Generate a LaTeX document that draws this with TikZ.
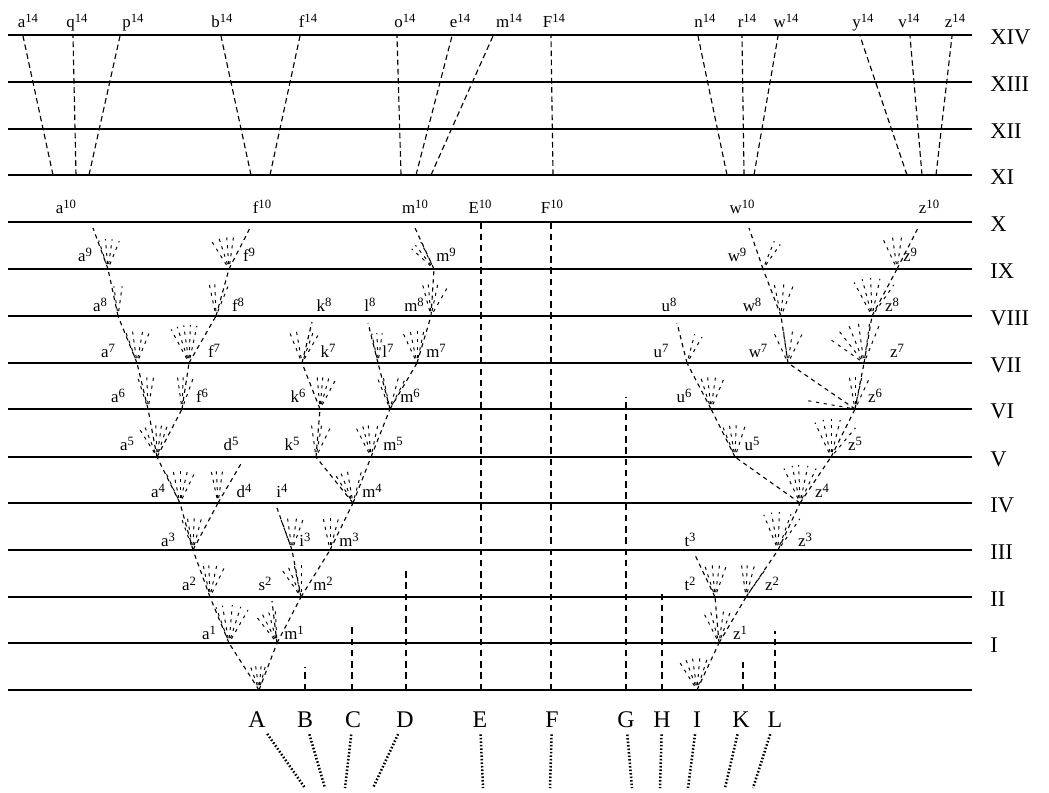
\documentclass[tikz,border=0pt]{standalone}
\usepackage{fontspec}
\setmainfont{Liberation Serif}

% a fan of short dashed twigs above a point
\newcommand{\sprout}[3]{\foreach \ang in {#3} \draw[twig] (#1) ++(\ang:5) -- ++(\ang:#2-5);}
\newcommand{\gsup}[1]{\raisebox{0.55ex}{\fontsize{9}{9}\selectfont #1}}

\begin{document}
\begin{tikzpicture}[
    x=0.025cm, y=-0.025cm,
    era/.style={line width=0.9pt},
    branch/.style={line width=0.8pt, dash pattern=on 3pt off 2.8pt},
    twig/.style={line width=0.7pt, dash pattern=on 2.2pt off 3.4pt},
    stem/.style={line width=0.9pt, dash pattern=on 4.5pt off 3.5pt},
    lineage/.style={line width=0.8pt, dash pattern=on 4pt off 2.5pt},
    trail/.style={line width=1.8pt, dash pattern=on 1.1pt off 1.4pt, shorten <=2pt},
    lab/.style={anchor=base, inner sep=0pt, font=\fontsize{12}{14}\selectfont},
    spec/.style={anchor=base, inner sep=3pt, font=\fontsize{17}{19}\selectfont},
    num/.style={anchor=west, inner sep=0pt, font=\fontsize{16}{18}\selectfont}
]
\useasboundingbox (0,0) rectangle (1049,792);

% generations
\foreach \y/\r/\n in {35/XIV/14, 82/XIII/13, 129/XII/12, 175/XI/11, 222/X/10,
    269/IX/9, 316/VIII/8, 363/VII/7, 409/VI/6, 457/V/5, 503/IV/4, 550/III/3,
    597/II/2, 643/I/1} {
    \draw[era] (8,\y) -- (972,\y);
    \node[num] (gen\n) at (990,\y+2) {\r};
}
\draw[era] (8,690) -- (972,690);

% parent species and their dotted trails
\foreach \n/\x/\lx/\ex in {A/259/257/305, B/305/305/325, C/352/353/345, D/406/405/373,
    E/481/480/483, F/551/552/550, G/626/626/632, H/662/662/660, I/697/697/688,
    K/743/741/725, L/775/775/753} {
    \coordinate (s\n) at (\x,690);
    \node[spec] (\n) at (\lx,727) {\n};
    \coordinate (\n-end) at (\ex,788);
    \draw[trail] (\n) -- (\n-end);
}

% unchanged lines
\foreach \n/\x/\t in {B/305/667, C/352/627, D/406/568, G/626/397, H/662/592,
    K/743/662, L/775/631, E/481/222, F/551/222} {
    \coordinate (\n-top) at (\x,\t);
    \draw[stem] (s\n) -- (\n-top);
}

% varieties
\foreach \n/\x/\y in {a1/229/643, m1/277/643, a2/210/597, s2/272/601, m2/301/597,
    a3/193/550, i3/292/550, m3/330/550, a4/180/503, d4/218/503, i4/277/508,
    m4/353/503, a5/157/457, d5/242/462, k5/316/457, m5/371/457, a6/148/409,
    f6/182/409, k6/320/409, m6/390/409, a7/137/363, f7/189/363, k7/302/363,
    l7/378/363, m7/417/363, a8/118/316, f8/216/316, k8/312/322, l8/368/323,
    m8/431/316, a9/108/269, f9/229/269, m9/434/269, a10/93/228, f10/250/228,
    m10/415/228, z1/719/643, t2/715/597, z2/746/597, t3/695/555, z3/778/550,
    z4/800/503, u5/735/457, z5/831/457, u6/711/409, z6/855/409, u7/687/363,
    w7/788/363, z7/864/363, u8/677/323, w8/781/316, z8/872/316, w9/763/269,
    z9/897/269, w10/749/228, z10/918/228}
    \coordinate (\n) at (\x,\y);

\foreach \p/\q in {sA/a1, sA/m1, a1/a2, m1/s2, m1/m2, a2/a3, m2/i3, m2/m3,
    a3/a4, a3/d4, i3/i4, m3/m4, a4/a5, d4/d5, m4/k5, m4/m5, a5/a6, a5/f6,
    k5/k6, m5/m6, a6/a7, f6/f7, k6/k7, m6/l7, m6/m7, a7/a8, f7/f8, k7/k8,
    l7/l8, m7/m8, a8/a9, f8/f9, m8/m9, a9/a10, f9/f10, m9/m10,
    sI/z1, z1/t2, z1/z2, t2/t3, z2/z3, z3/z4, z4/u5, z4/z5, u5/u6, z5/z6,
    u6/u7, z6/w7, z6/z7, u7/u8, w7/w8, z7/z8, w8/w9, z8/z9, w9/w10, z9/z10}
    \draw[branch] (\p) -- (\q);

% twigs
\sprout{sA}{26}{250,262,275,285}
\sprout{a1}{38}{250,260,275,288,300}
\sprout{m1}{36}{232,243,255,267}
\sprout{a2}{34}{258,268,282,296}
\sprout{m2}{34}{235,247,258,270}
\sprout{a3}{36}{250,260,272,285}
\sprout{i3}{34}{250,262,278,290}
\sprout{m3}{34}{258,270,285}
\sprout{a4}{36}{245,258,270,283,296}
\sprout{d4}{36}{258,267,278}
\sprout{m4}{34}{238,248,260,285}
\sprout{a5}{36}{238,248,268,278,288}
\sprout{k5}{34}{262,280,296}
\sprout{m5}{34}{243,255,265,282}
\sprout{a6}{32}{252,268,280}
\sprout{f6}{32}{262,272,290}
\sprout{k6}{34}{265,275,286,298}
\sprout{m6}{34}{248,258,285,297}
\sprout{a7}{34}{250,262,280,292}
\sprout{f7}{38}{242,252,262,272,282}
\sprout{k7}{34}{248,260,290,300}
\sprout{l7}{30}{258,268,278}
\sprout{m7}{34}{245,258,270,282}
\sprout{a8}{30}{262,278}
\sprout{f8}{34}{258,268,292}
\sprout{m8}{34}{255,265,282,300}
\sprout{a9}{30}{252,265,278,292}
\sprout{f9}{36}{238,252,266,278}
\sprout{m9}{30}{222,232,244}
\sprout{sI}{34}{238,250,262,275,288}
\sprout{z1}{36}{243,255,278,290}
\sprout{t2}{34}{252,265,278,290}
\sprout{z2}{34}{262,272,285,305}
\sprout{z3}{38}{248,260,272,290,305}
\sprout{z4}{38}{245,258,268,282,295}
\sprout{u5}{36}{248,260,272,288}
\sprout{z5}{38}{245,258,270,284,310}
\sprout{u6}{34}{252,264,278,293}
\sprout{z6}{48}{190}
\sprout{z6}{36}{260,270,282,295}
\sprout{u7}{30}{285,300}
\sprout{w7}{36}{245,262,278,296}
\sprout{z7}{40}{215,232,248,262,278,292}
\sprout{w8}{34}{258,275,292}
\sprout{z8}{38}{242,255,268,282,305}
\sprout{w9}{30}{292,305}
\sprout{z9}{32}{245,262,278}

% fourteenth generation
\foreach \n/\xa/\xb in {a/53/23, q/76/73, p/89/120, b/251/221, f/270/300,
    o/401/397, e/416/452, m/431/493, F/553/551, n/727/698, r/744/742,
    w/754/778, y/907/860, v/922/910, z/936/952} {
    \coordinate (\n11) at (\xa,175);
    \coordinate (\n14) at (\xb,36);
    \draw[lineage] (\n11) -- (\n14);
}

% labels
\foreach \t/\x in {a/28, q/77, p/133, b/222, f/308, o/405, e/460, m/509, F/554,
    n/705, r/747, w/786, y/863, v/909, z/955}
    \node[lab] (l\t14) at (\x,27) {\t\gsup{14}};

\foreach \t/\s/\x/\y in {a/10/66/213, f/10/262/213, m/10/415/213, E/10/480/213,
    F/10/552/213, w/10/742/213, z/10/929/213,
    a/9/85/261, f/9/249/261, m/9/446/261, w/9/737/261, z/9/910/261,
    a/8/100/311, f/8/238/311, k/8/324/311, l/8/370/311, m/8/414/311,
    u/8/669/311, w/8/752/311, z/8/892/311,
    a/7/108/357, f/7/214/357, k/7/328/357, l/7/388/357, m/7/436/357,
    u/7/661/357, w/7/758/357, z/7/897/357,
    a/6/118/402, f/6/202/402, k/6/298/402, m/6/410/402, u/6/684/402, z/6/875/402,
    a/5/127/450, d/5/231/450, k/5/292/450, m/5/393/450, u/5/752/450, z/5/855/450,
    a/4/158/497, d/4/244/497, i/4/282/497, m/4/372/497, z/4/822/497,
    a/3/168/546, i/3/305/546, m/3/349/546, t/3/690/546, z/3/805/546,
    a/2/189/590, s/2/265/590, m/2/323/590, t/2/690/590, z/2/772/590,
    a/1/209/639, m/1/294/639, z/1/740/639}
    \node[lab] (l\t\s) at (\x,\y) {\t\gsup{\s}};
\end{tikzpicture}
\end{document}
